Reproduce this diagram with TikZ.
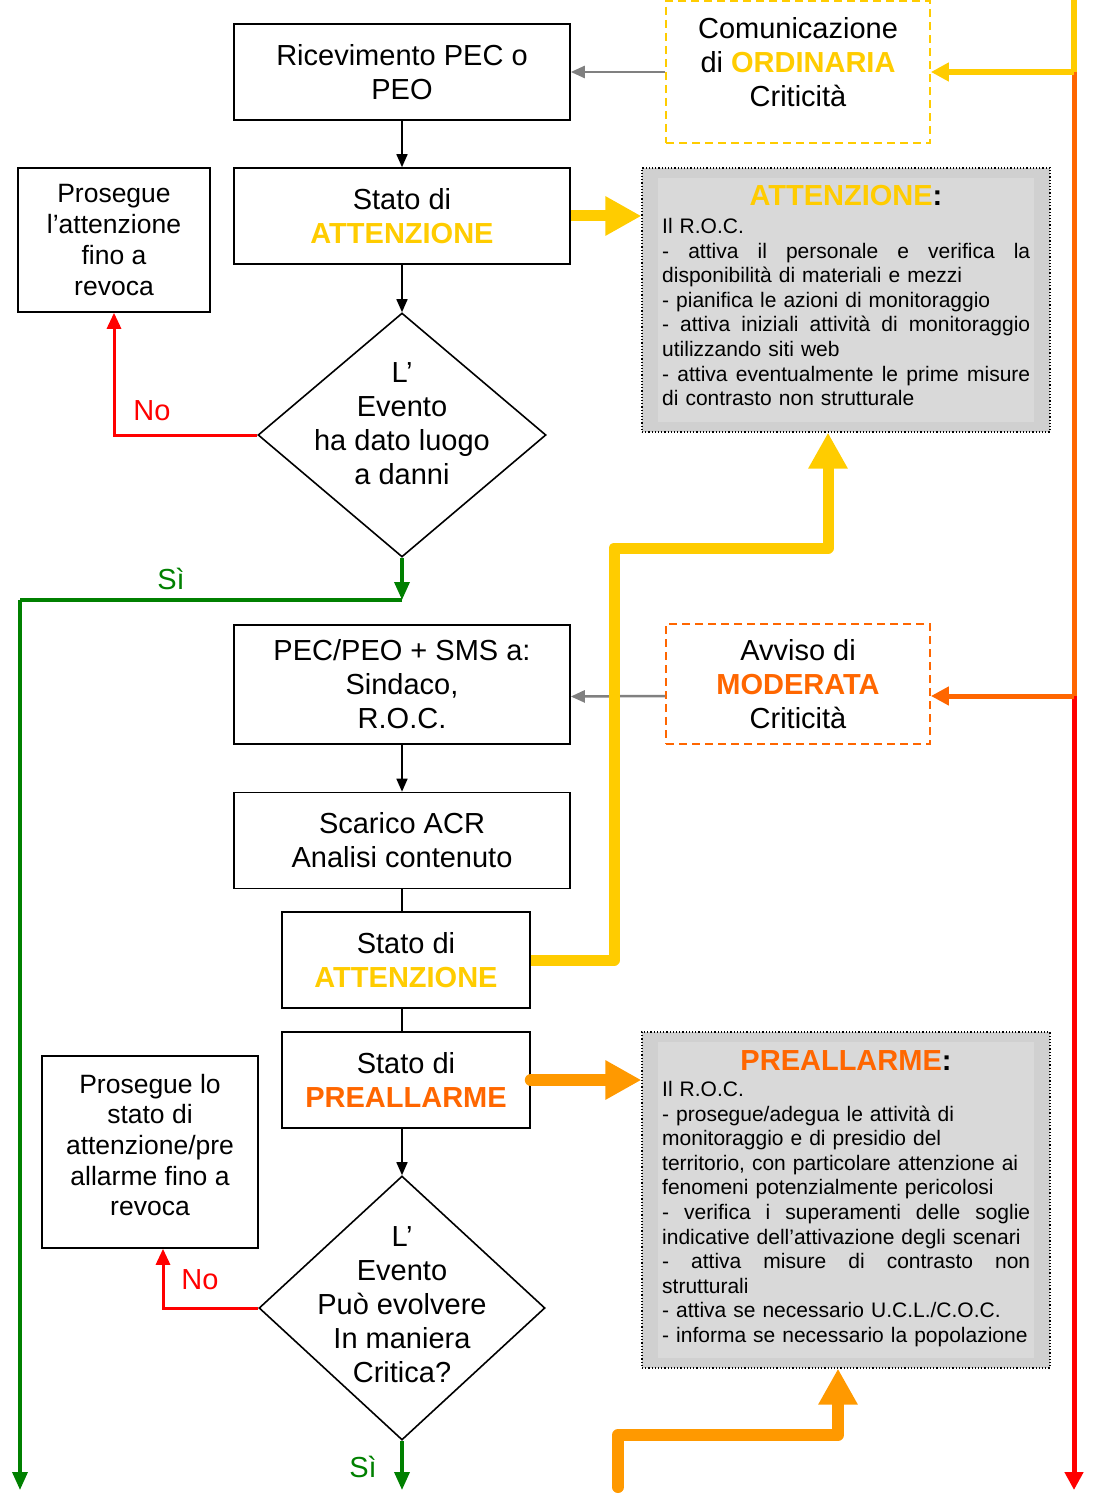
\documentclass[tikz,border=0pt]{standalone}
\usepackage{fontspec}
\setmainfont{Liberation Sans}
\usetikzlibrary{arrows.meta,shapes.geometric}

\definecolor{amber}{HTML}{FFCC00}
\definecolor{tangerine}{HTML}{FF6600}
\definecolor{pumpkin}{HTML}{FF9900}
\definecolor{leaf}{HTML}{008000}
\definecolor{panelout}{RGB}{208,208,208}
\definecolor{panelin}{RGB}{217,217,217}

\newcommand\mainfs{\fontsize{29pt}{34pt}\selectfont}
\newcommand\sidefs{\fontsize{26.5pt}{30.7pt}\selectfont}
\newcommand\notefs{\fontsize{21pt}{24.6pt}\selectfont}
\newcommand\headfs{\fontsize{29pt}{34pt}\selectfont\bfseries}
% a justified line: every interword space stretches to fill the column
\newcommand\fullline[1]{\leavevmode\hbox to 368pt{\spaceskip=0.278em plus 1fil\relax #1}}

\begin{document}
\begin{tikzpicture}[x=1pt,y=-1pt,
  box/.style={draw, line width=1.6pt, minimum width=336pt, minimum height=96pt,
    align=center, font=\mainfs, inner sep=0pt},
  sidebox/.style={draw, line width=1.6pt, align=center, font=\sidefs, inner sep=0pt},
  dia/.style={draw, diamond, line width=1.6pt, inner sep=0pt},
  txt/.style={font=\mainfs, align=center, inner sep=0pt},
  dashbox/.style={dashed, dash pattern=on 8pt off 5pt, line width=1.8pt,
    align=center, font=\mainfs, inner sep=0pt, minimum width=264pt},
  flow/.style={line width=1.6pt, -{Triangle[width=11pt,length=13pt]}},
  yes/.style={leaf, line width=3.5pt, -{Triangle[width=15pt,length=18pt]}},
  nope/.style={red, line width=3pt, -{Triangle[width=14pt,length=16pt]}},
  grayarrow/.style={gray, line width=2.5pt, -{Triangle[width=12pt,length=14pt]}},
  infobox/.style={draw, dotted, line width=1.2pt, fill=panelout, inner sep=0pt},
  infoin/.style={fill=panelin, inner sep=0pt},
  notetext/.style={font=\notefs, text width=420pt, align=left, inner sep=0pt},
  bigyel/.style={amber, line width=11pt, line join=round, -{Triangle[width=37pt,length=36pt]}},
  bigorg/.style={pumpkin, line width=12pt, line join=round, line cap=round,
    -{Triangle[width=37pt,length=36pt]}}
]
\useasboundingbox (0,0) rectangle (1113,1495);

% ---- left column: flow of the alert ----
\node[box] (ric) at (402,72) {Ricevimento PEC o\\PEO};
\node[box] (att1) at (402,216) {Stato di\\{\bfseries\color{amber}ATTENZIONE}};
\node[dia, minimum width=288pt, minimum height=244pt] (d1) at (402,435) {};
\node[txt] (d1t) at (402,424) {L’\\Evento\\ha dato luogo\\a danni};
\node[sidebox, minimum width=192pt, minimum height=144pt] (pro1) at (114,240)
  {Prosegue\\l’attenzione\\fino a\\revoca};

\node[box, minimum height=119pt] (pec) at (402,684.5) {PEC/PEO + SMS a:\\Sindaco,\\R.O.C.};
\node[box] (acr) at (402,840.5) {Scarico ACR\\Analisi contenuto};
\node[box, minimum width=248pt] (att2) at (406,960) {Stato di\\{\bfseries\color{amber}ATTENZIONE}};
\node[box, minimum width=248pt] (pre) at (406,1080) {Stato di\\{\bfseries\color{tangerine}PREALLARME}};
\node[dia, minimum width=286pt, minimum height=264pt] (d2) at (402,1308) {};
\node[txt] (d2t) at (402,1305) {L’\\Evento\\Può evolvere\\In maniera\\Critica?};
\node[sidebox, minimum width=216pt, minimum height=192pt] (pro2) at (150,1152) {};
\node[sidebox, draw=none] (pro2t) at (150,1145)
  {Prosegue lo\\stato di\\attenzione/pre\\allarme fino a\\revoca};

\draw[flow] (ric) -- (att1);
\draw[flow] (att1) -- (d1.north);
\draw[flow] (pec) -- (acr);
\draw[line width=1.6pt] (acr.south) -- (acr.south |- att2.north);
\draw[line width=1.6pt] (acr.south |- att2.south) -- (acr.south |- pre.north);
\draw[flow] (acr.south |- pre.south) -- (d2.north);

% yes / no branches
\coordinate (j1) at (402,600);
\coordinate (s1) at (20,600);
\coordinate (e1) at (20,1490);
\draw[yes] (d1.south) -- (j1);
\draw[leaf, line width=3.5pt] (j1) -- (s1);
\draw[yes] (s1) -- (e1);
\node[txt, text=leaf] (si1) at (171,579) {Sì};

\draw[nope] (d1.west) -| (pro1.south);
\node[txt, text=red] (no1) at (152,411) {No};

\coordinate (e2) at (402,1490);
\draw[yes] (d2.south) -- (e2);
\node[txt, text=leaf] (si2) at (363,1467) {Sì};

\draw[nope] (d2.west) -| ([xshift=13pt]pro2.south);
\node[txt, text=red] (no2) at (200,1280) {No};

% ---- right column: incoming notices ----
\node[dashbox, draw=amber, minimum height=142pt] (ord) at (798,72) {};
\node[txt] (ordt) at (798,62) {Comunicazione\\di {\bfseries\color{amber}ORDINARIA}\\Criticità};
\node[dashbox, draw=tangerine, minimum height=120pt] (mod) at (798,684)
  {Avviso di\\{\bfseries\color{tangerine}MODERATA}\\Criticità};

\draw[grayarrow] (ord.west) -- (ric.east);
\draw[grayarrow] ([yshift=-12pt]mod.west) -- ([yshift=-12pt]pec.east -| pec.east);

\coordinate (vt) at (1074,-2);
\coordinate (v1) at (1074,72);
\coordinate (v2) at (1074,696);
\coordinate (vb) at (1074,1490);
\draw[amber, line width=6pt] (vt) -- (v1);
\draw[tangerine, line width=5pt] (v1) -- (v2);
\draw[red, line width=5pt, -{Triangle[width=18pt,length=18pt]}] (v2) -- (vb);
\draw[amber, line width=6pt, -{Triangle[width=18pt,length=18pt]}] (v1) -- (ord.east);
\draw[tangerine, line width=5pt, -{Triangle[width=18pt,length=18pt]}] (v2) -- ([yshift=-12pt]mod.east);

% ---- ATTENZIONE panel ----
\node[infobox, minimum width=408pt, minimum height=264pt] (attbox) at (846,300) {};
\node[infoin, minimum width=376pt, minimum height=244pt] (attin) at (846,300) {};
\node[font=\headfs, anchor=base, inner sep=0pt] (atth) at (846,206) {{\color{amber}ATTENZIONE}:};
\node[notetext, anchor=north west] (attb) at (662,218) {Il R.O.C.\\
\fullline{- attiva il personale e verifica la}\\
disponibilità di materiali e mezzi\\
- pianifica le azioni di monitoraggio\\
\fullline{- attiva iniziali attività di monitoraggio}\\
utilizzando siti web\\
\fullline{- attiva eventualmente le prime misure}\\
di contrasto non strutturale};

% ---- PREALLARME panel ----
\node[infobox, minimum width=408pt, minimum height=336pt] (prebox) at (846,1200) {};
\node[infoin, minimum width=376pt, minimum height=316pt] (prein) at (846,1200) {};
\node[font=\headfs, anchor=base, inner sep=0pt] (preh) at (846,1070) {{\color{tangerine}PREALLARME}:};
\node[notetext, anchor=north west] (preb) at (662,1081) {Il R.O.C.\\
- prosegue/adegua le attività di\\
monitoraggio e di presidio del\\
territorio, con particolare attenzione ai\\
fenomeni potenzialmente pericolosi\\
\fullline{- verifica i superamenti delle soglie}\\
indicative dell’attivazione degli scenari\\
\fullline{- attiva misure di contrasto non}\\
strutturali\\
- attiva se necessario U.C.L./C.O.C.\\
- informa se necessario la popolazione};

% ---- thick escalation arrows ----
\draw[bigyel] (att1.east) -- (att1.east -| attbox.west);
\draw[bigyel] (att2.east) -| (614,548) -| ([xshift=-18pt]attbox.south);
\draw[bigorg] (pre.east) -- (pre.east -| prebox.west);
\coordinate (ob) at (618,1487);
\coordinate (ob2) at (838,1435);
\draw[bigorg] (ob) |- (ob2) -- (ob2 |- prebox.south);
\end{tikzpicture}
\end{document}
